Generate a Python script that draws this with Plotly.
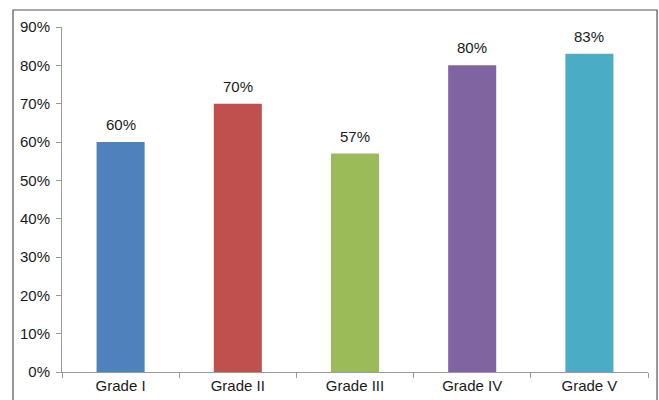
import plotly.graph_objects as go

grades = ["Grade I", "Grade II", "Grade III", "Grade IV", "Grade V"]
rates = [60, 70, 57, 80, 83]
bar_colors = ["#4F81BD", "#C0504D", "#9BBB59", "#8064A2", "#4BACC6"]
y_ticks = [0, 10, 20, 30, 40, 50, 60, 70, 80, 90]

font_family = "Liberation Sans, Arial, sans-serif"
text_color = "#1a1a1a"
axis_color = "#9a9a9a"

fig = go.Figure(
    go.Bar(
        x=grades,
        y=rates,
        marker=dict(color=bar_colors, line=dict(width=0)),
        width=0.41,
        hoverinfo="x+y",
    )
)

# value labels sitting above each bar
annotations = [
    dict(
        x=g, y=v, xref="x", yref="y",
        text=f"{v}%", showarrow=False,
        yanchor="bottom", yshift=7,
        font=dict(size=15, color=text_color, family=font_family),
    )
    for g, v in zip(grades, rates)
]

fig.update_layout(
    width=659,
    height=400,
    margin=dict(l=62, r=11, t=27, b=28),
    paper_bgcolor="white",
    plot_bgcolor="white",
    showlegend=False,
    font=dict(family=font_family, size=15, color=text_color),
    annotations=annotations,
    shapes=[
        dict(
            type="rect", xref="paper", yref="paper",
            x0=-0.0836, x1=1.0154, y0=-0.3, y1=1.0493,
            line=dict(color="#555555", width=1.2),
            fillcolor="rgba(0,0,0,0)", layer="below",
        )
    ],
)

fig.update_yaxes(
    range=[0, 90],
    tickvals=y_ticks,
    ticktext=[f"{v}%" for v in y_ticks],
    showgrid=False,
    zeroline=False,
    showline=True,
    linecolor=axis_color,
    linewidth=1,
    ticks="outside",
    ticklen=5,
    tickcolor=axis_color,
    ticklabelstandoff=3,
    tickfont=dict(size=15, color=text_color),
    automargin=False,
)

fig.update_xaxes(
    showgrid=False,
    showline=True,
    linecolor=axis_color,
    linewidth=1,
    ticks="outside",
    tickson="boundaries",
    ticklen=5,
    tickcolor=axis_color,
    tickfont=dict(size=15, color=text_color),
    automargin=False,
)

fig.write_html("out.html")
